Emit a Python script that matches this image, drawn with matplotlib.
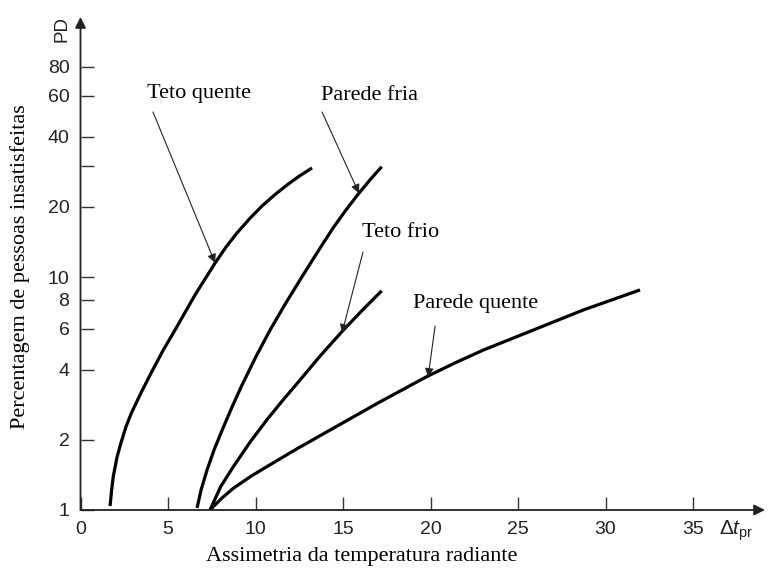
import numpy as np
import matplotlib
matplotlib.use("Agg")
import matplotlib.pyplot as plt
from matplotlib.ticker import FixedLocator, FixedFormatter, NullLocator

# curvas (x = assimetria, y = PD em %)
teto_quente_x = [1.69, 1.78, 1.87, 2.09, 2.31, 2.61, 2.91, 3.49, 4.07, 4.73, 5.40,
                 6.54, 7.69, 8.31, 8.94, 9.66, 10.37, 11.09, 11.80, 12.51, 13.23]
teto_quente_y = [1.04, 1.22, 1.39, 1.69, 1.94, 2.29, 2.61, 3.22, 3.92, 4.86, 5.92,
                 8.37, 11.48, 13.43, 15.45, 17.79, 20.17, 22.51, 24.83, 27.14, 29.37]

parede_fria_x = [6.66, 6.89, 7.23, 7.63, 8.09, 8.66, 9.23, 10.03, 10.83, 11.69,
                 12.54, 13.69, 14.43, 15.18, 15.93, 16.57, 17.21]
parede_fria_y = [1.02, 1.22, 1.485, 1.81, 2.20, 2.77, 3.44, 4.56, 5.92, 7.64,
                 9.71, 13.32, 16.23, 19.45, 23.0, 26.27, 29.75]

teto_frio_x = [7.40, 8.00, 8.73, 9.69, 10.64, 11.59, 12.54, 13.69, 14.93, 16.07, 17.21]
teto_frio_y = [1.0, 1.256, 1.534, 1.956, 2.434, 2.977, 3.61, 4.58, 5.82, 7.16, 8.73]

parede_quente_x = [7.40, 8.07, 8.73, 9.69, 10.64, 12.45, 14.26, 17.0, 19.78, 21.40,
                   23.02, 25.87, 28.73, 31.97]
parede_quente_y = [1.0, 1.123, 1.239, 1.388, 1.534, 1.846, 2.204, 2.88, 3.734, 4.28,
                   4.86, 5.92, 7.22, 8.8]

x_ticks = [0, 5, 10, 15, 20, 25, 30, 35]
y_ticks = [1, 2, 4, 6, 8, 10, 20, 30, 40, 60, 80]
y_tick_labels = ["1", "2", "4", "6", "8", "10", "20", "", "40", "60", "80"]

# rotulos: texto, posicao do texto, inicio da seta, ponta da seta
rotulos = [
    ("Teto quente", (6.77, 61.6), (4.14, 51.1), (7.69, 11.5)),
    ("Parede fria", (16.49, 60.4), (13.8, 51.1), (15.91, 22.9)),
    ("Teto frio", (18.31, 15.6), (16.14, 12.8), (14.94, 5.75)),
    ("Parede quente", (22.6, 7.66), (20.26, 6.16), (19.86, 3.72)),
]

serif = ["Liberation Serif", "DejaVu Serif"]
sans = ["Liberation Sans", "DejaVu Sans"]
plt.rcParams["font.family"] = sans
plt.rcParams["mathtext.fontset"] = "custom"
plt.rcParams["mathtext.rm"] = "Liberation Sans"
plt.rcParams["mathtext.it"] = "Liberation Sans:italic"

fig = plt.figure(figsize=(7.77, 5.77), dpi=100)
ax = fig.add_axes([80.5 / 777, 67 / 577, (765 - 80.5) / 777, (510 - 17) / 577])

for xs, ys in [(teto_quente_x, teto_quente_y), (parede_fria_x, parede_fria_y),
               (teto_frio_x, teto_frio_y), (parede_quente_x, parede_quente_y)]:
    ax.plot(xs, ys, color="black", lw=2.3, solid_capstyle="butt",
            solid_joinstyle="round")

ax.set_yscale("log")
ax.set_xlim(0, 39.11)
ax.set_ylim(1, 130.6)

ax.xaxis.set_major_locator(FixedLocator(x_ticks))
ax.yaxis.set_major_locator(FixedLocator(y_ticks))
ax.yaxis.set_major_formatter(FixedFormatter(y_tick_labels))
ax.yaxis.set_minor_locator(NullLocator())
ax.tick_params(direction="in", length=9.5, width=1.0, color="#333333",
               labelsize=14, labelcolor="#222222")
ax.tick_params(axis="x", pad=8)
ax.tick_params(axis="y", pad=8)

for s in ax.spines.values():
    s.set_visible(False)

# eixos com setas
seta = dict(arrowstyle="-|>", color="#222222", lw=1.3, mutation_scale=16,
            shrinkA=0, shrinkB=0)
ax.annotate("", xy=(1, 0), xytext=(0, 0), xycoords="axes fraction",
            arrowprops=seta, annotation_clip=False)
ax.annotate("", xy=(0, 1), xytext=(0, 0), xycoords="axes fraction",
            arrowprops=seta, annotation_clip=False)

for texto, pos, ini, ponta in rotulos:
    ax.text(pos[0], pos[1], texto, family=serif, fontsize=16,
            ha="center", va="center")
    ax.annotate("", xy=ponta, xytext=ini,
                arrowprops=dict(arrowstyle="-|>", color="#222222", lw=0.8,
                                mutation_scale=13, shrinkA=0, shrinkB=0))

fig.text(61.5 / 777, 1 - 29.5 / 577, "PD", rotation=90, ha="center",
         va="center", fontsize=13.5, color="#222222")
fig.text(736 / 777, 1 - 531 / 577, r"$\Delta\mathit{t}_{\mathrm{pr}}$",
         ha="center", va="center", fontsize=15, color="#222222")
fig.text(362 / 777, 1 - 557 / 577, "Assimetria da temperatura radiante",
         family=serif, fontsize=16, ha="center", va="center")
fig.text(20 / 777, 1 - 267 / 577, "Percentagem de pessoas insatisfeitas",
         family=serif, fontsize=16, rotation=90, ha="center", va="center")

fig.savefig("out.png", dpi=100)
